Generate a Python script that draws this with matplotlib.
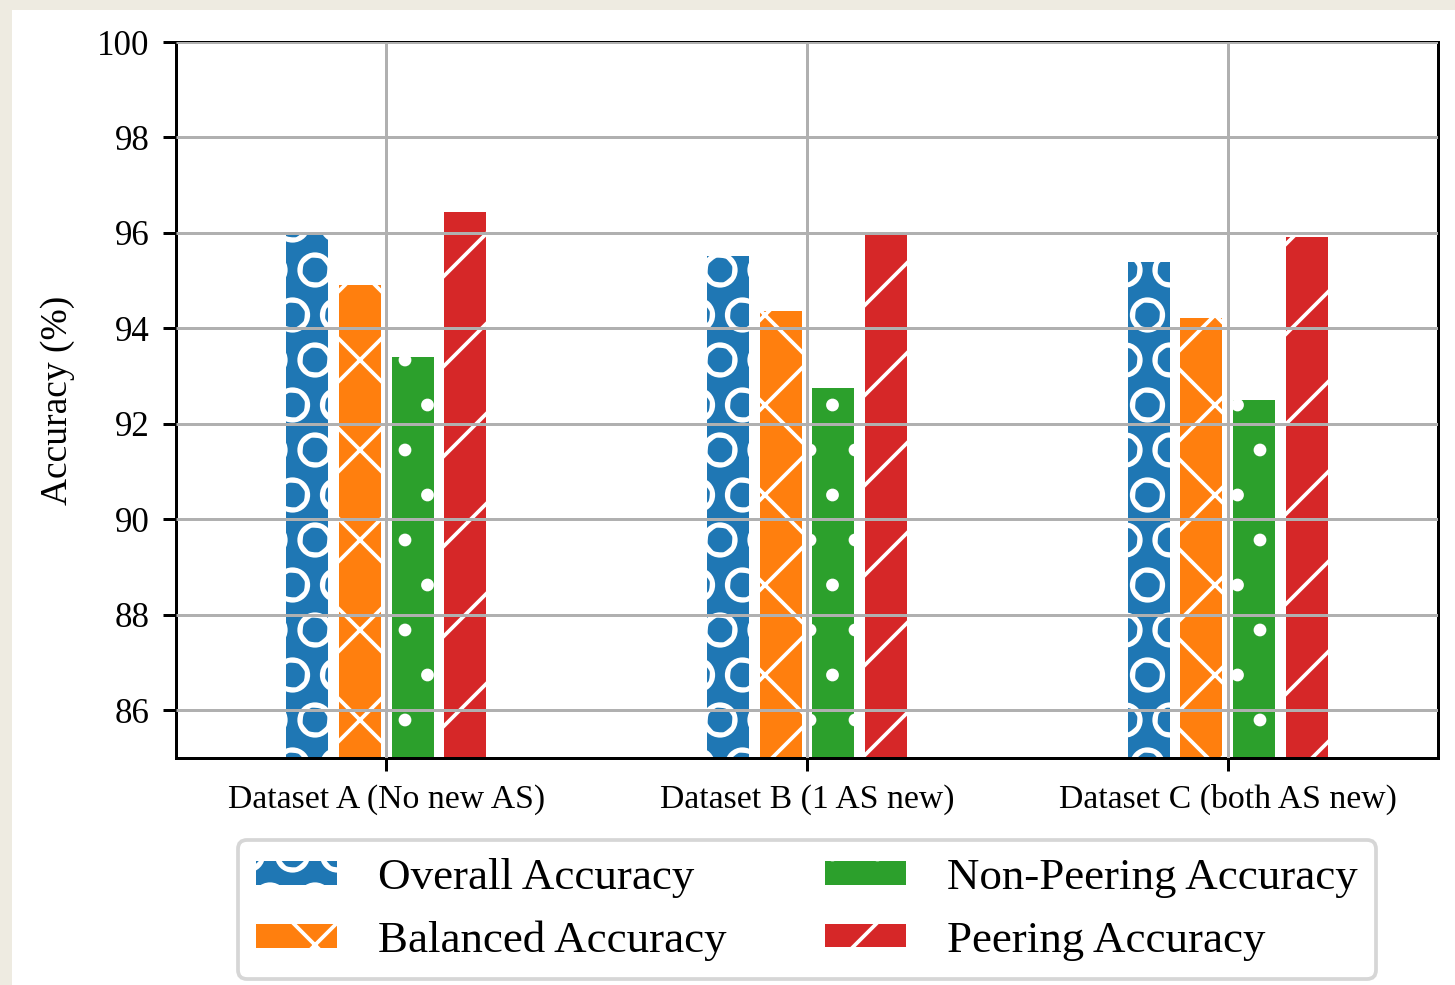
import matplotlib
matplotlib.use("Agg")
import matplotlib.pyplot as plt
from matplotlib.patches import Rectangle
import numpy as np

# Data
datasets = ["Dataset A (No new AS)", "Dataset B (1 AS new)", "Dataset C (both AS new)"]
metrics = ["Overall Accuracy", "Balanced Accuracy", "Non-Peering Accuracy", "Peering Accuracy"]
overall = [96.0, 95.52, 95.39]
balanced = [94.91, 94.37, 94.22]
non_peering = [93.4, 92.76, 92.51]
peering = [96.44, 95.98, 95.91]
yticks = [86, 88, 90, 92, 94, 96, 98, 100]

series = [overall, balanced, non_peering, peering]
colors = ["#1f77b4", "#ff7f0e", "#2ca02c", "#d62728"]
hatches = ["O", "x", ".", "/"]

plt.rcParams["font.family"] = ["Liberation Serif", "DejaVu Serif"]
plt.rcParams["hatch.linewidth"] = 1.0

dpi = 270
fig = plt.figure(figsize=(1455 / dpi, 985 / dpi), dpi=dpi, facecolor="#eeebe1")
# white page area
fig.patches.append(Rectangle((12 / 1455, 0), 1 - 12 / 1455, 1 - 10 / 985,
                             transform=fig.transFigure, facecolor="white",
                             edgecolor="none", zorder=-10))

ax = fig.add_axes([176 / 1455, 1 - 758 / 985, (1438 - 176) / 1455, (758 - 42) / 985])

x = np.arange(len(datasets))
width = 0.1
step = 0.125
for i, (vals, c, h, lab) in enumerate(zip(series, colors, hatches, metrics)):
    ax.bar(x + (i - 1.5) * step, vals, width=width, color=c, edgecolor="white",
           linewidth=0, hatch=h, label=lab)

ax.set_xlim(-0.5, 2.5)
ax.set_ylim(85, 100)
ax.set_yticks(yticks)
ax.set_xticks(x)
ax.set_xticklabels(datasets, fontsize=9)
ax.tick_params(axis="y", labelsize=9.3)
ax.set_ylabel("Accuracy (%)", fontsize=10, labelpad=6)
ax.set_axisbelow(False)
ax.grid(True, color="#b0b0b0", linewidth=0.8)

fig.legend(loc="upper center", bbox_to_anchor=(807 / 1455, 1 - 840 / 985),
           ncol=2, fontsize=12, borderaxespad=0, handlelength=1.78,
           handleheight=0.44, handletextpad=0.92, borderpad=0.4,
           columnspacing=2.2)

fig.savefig("out.png", dpi=dpi, facecolor=fig.get_facecolor())
